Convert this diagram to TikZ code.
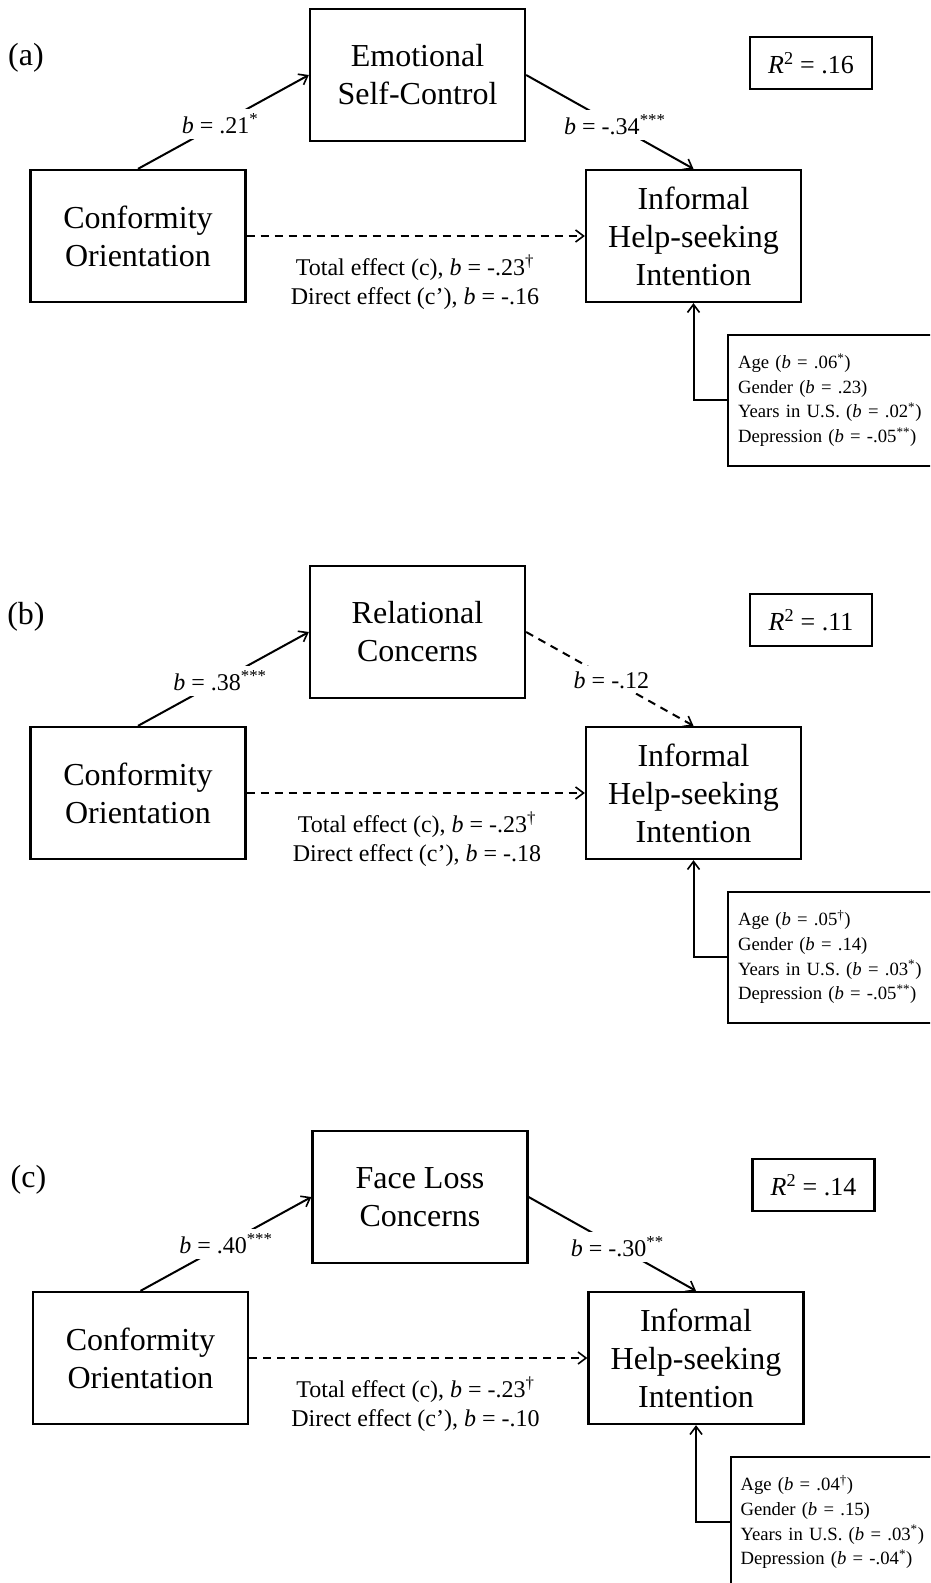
\documentclass[tikz,border=0pt]{standalone}
\usepackage{fontspec}
\setmainfont{Liberation Serif}
\usetikzlibrary{arrows.meta}

\tikzset{
  varbox/.style={draw, line width=2.3pt, minimum width=215pt, minimum height=132pt,
    align=center, inner sep=0pt, font=\fontsize{32}{38}\selectfont},
  rsqbox/.style={draw, line width=2.3pt, minimum width=122pt, minimum height=52pt,
    inner sep=0pt, font=\fontsize{26}{30}\selectfont},
  covbox/.style={draw, line width=2pt, anchor=west, minimum height=131pt,
    text width=220pt, inner xsep=10pt, align=left, font=\fontsize{18.7}{24.7}\selectfont},
  panellbl/.style={font=\fontsize{32}{36}\selectfont, inner sep=0pt},
  pathlbl/.style={fill=white, inner xsep=3pt, inner ysep=5pt, font=\fontsize{24}{29}\selectfont},
  effectlbl/.style={align=center, inner sep=0pt, font=\fontsize{24}{29}\selectfont},
  link/.style={line width=2pt, -{Straight Barb[length=8pt,width=12pt,line width=1.6pt]}},
  dashedlink/.style={link, dash pattern=on 8pt off 6pt},
}

\newcommand{\bee}{\textit{b}}
\newcommand{\sig}[1]{\textsuperscript{#1}}

\begin{document}
\begin{tikzpicture}[x=1pt, y=-1pt]
\useasboundingbox (0,0) rectangle (930,1583);
\clip (0,0) rectangle (930,1583);

% ---------- panel (a): emotional self-control ----------
\begin{scope}
  \node[panellbl] (a-lbl) at (26,58) {(a)};
  \node[varbox] (a-con) at (138,236) {Conformity\\Orientation};
  \node[varbox] (a-med) at (417.5,75) {Emotional\\Self-Control};
  \node[varbox] (a-inf) at (693.5,236) {Informal\\Help-seeking\\Intention};
  \node[rsqbox] (a-rsq) at (811,63) {\textit{R}\sig{2} = .16};
  \node[covbox] (a-cov) at (727,400) {Age (\bee{} = .06\sig{*})\\Gender (\bee{} = .23)\\Years in U.S. (\bee{} = .02\sig{*})\\Depression (\bee{} = -.05\sig{**})};
  \draw[link] (a-con.north) -- node[pathlbl, pos=0.48] {\bee{} = .21\sig{*}} (a-med.west);
  \draw[link] (a-med.east) -- node[pathlbl, pos=0.53] {\bee{} = -.34\sig{***}} (a-inf.north);
  \draw[dashedlink] (a-con.east) -- (a-inf.west);
  \node[effectlbl] (a-eff) at (415,282) {Total effect (c), \bee{} = -.23\sig{\dag}\\Direct effect (c’), \bee{} = -.16};
  \draw[link] (a-cov.west) -| (a-inf.south);
\end{scope}

% ---------- panel (b): relational concerns ----------
\begin{scope}[shift={(0,557)}]
  \node[panellbl] (b-lbl) at (26,60) {(b)};
  \node[varbox] (b-con) at (138,236) {Conformity\\Orientation};
  \node[varbox] (b-med) at (417.5,75) {Relational\\Concerns};
  \node[varbox] (b-inf) at (693.5,236) {Informal\\Help-seeking\\Intention};
  \node[rsqbox] (b-rsq) at (811,63) {\textit{R}\sig{2} = .11};
  \node[covbox] (b-cov) at (727,400) {Age (\bee{} = .05\sig{\dag})\\Gender (\bee{} = .14)\\Years in U.S. (\bee{} = .03\sig{*})\\Depression (\bee{} = -.05\sig{**})};
  \draw[link] (b-con.north) -- node[pathlbl, pos=0.48] {\bee{} = .38\sig{***}} (b-med.west);
  \draw[dashedlink] (b-med.east) -- node[pathlbl, pos=0.51] {\bee{} = -.12} (b-inf.north);
  \draw[dashedlink] (b-con.east) -- (b-inf.west);
  \node[effectlbl] (b-eff) at (417,282) {Total effect (c), \bee{} = -.23\sig{\dag}\\Direct effect (c’), \bee{} = -.18};
  \draw[link] (b-cov.west) -| (b-inf.south);
\end{scope}

% ---------- panel (c): face loss concerns ----------
\begin{scope}[shift={(2.5,1122)}]
  \node[panellbl] (c-lbl) at (26,58) {(c)};
  \node[varbox] (c-con) at (138,236) {Conformity\\Orientation};
  \node[varbox] (c-med) at (417.5,75) {Face Loss\\Concerns};
  \node[varbox] (c-inf) at (693.5,236) {Informal\\Help-seeking\\Intention};
  \node[rsqbox] (c-rsq) at (811,63) {\textit{R}\sig{2} = .14};
  \node[covbox] (c-cov) at (727,400) {Age (\bee{} = .04\sig{\dag})\\Gender (\bee{} = .15)\\Years in U.S. (\bee{} = .03\sig{*})\\Depression (\bee{} = -.04\sig{*})};
  \draw[link] (c-con.north) -- node[pathlbl, pos=0.5] {\bee{} = .40\sig{***}} (c-med.west);
  \draw[link] (c-med.east) -- node[pathlbl, pos=0.53] {\bee{} = -.30\sig{**}} (c-inf.north);
  \draw[dashedlink] (c-con.east) -- (c-inf.west);
  \node[effectlbl] (c-eff) at (413,282) {Total effect (c), \bee{} = -.23\sig{\dag}\\Direct effect (c’), \bee{} = -.10};
  \draw[link] (c-cov.west) -| (c-inf.south);
\end{scope}
\end{tikzpicture}
\end{document}
